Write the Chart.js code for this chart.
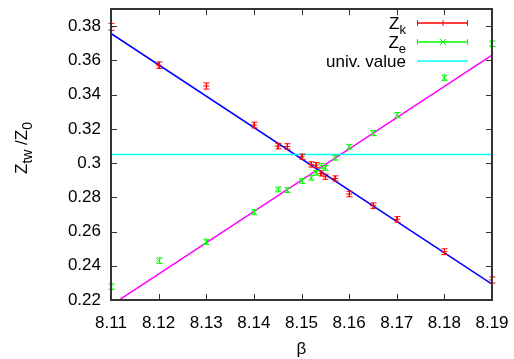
<!DOCTYPE html>
<html>
<head>
<meta charset="utf-8">
<script src="https://cdn.jsdelivr.net/npm/chart.js@4/dist/chart.umd.min.js"></script>
<style>
  html, body { margin: 0; padding: 0; background: #fff; }
  #wrap { width: 514px; height: 359px; }
</style>
</head>
<body>
<div id="wrap"><canvas id="chart"></canvas></div>
<script>
// DATA
const beta = [8.11, 8.12, 8.13, 8.14, 8.145, 8.147, 8.15, 8.152, 8.153, 8.154, 8.155, 8.157, 8.16, 8.165, 8.17, 8.18, 8.19];
const zK = [0.3796, 0.3572, 0.3450, 0.3222, 0.3099, 0.3097, 0.3037, 0.2992, 0.2988, 0.2940, 0.2920, 0.2910, 0.2819, 0.2751, 0.2671, 0.2482, 0.2317];
const zKerr = [0.0020, 0.0019, 0.0018, 0.0017, 0.0016, 0.0016, 0.0015, 0.0015, 0.0015, 0.0015, 0.0015, 0.0015, 0.0016, 0.0016, 0.0016, 0.0017, 0.0018];
const zE = [0.2278, 0.2430, 0.2540, 0.2713, 0.2846, 0.2842, 0.2895, 0.2914, 0.2943, 0.2984, 0.2972, 0.3031, 0.3095, 0.3175, 0.3280, 0.3498, 0.3697];
const zEerr = [0.0016, 0.0016, 0.0015, 0.0015, 0.0014, 0.0014, 0.0014, 0.0014, 0.0014, 0.0014, 0.0014, 0.0014, 0.0014, 0.0015, 0.0015, 0.0015, 0.0016];
const univValue = 0.305;
const fitBeta = [8.11, 8.19];
const fitK = [0.3757, 0.2293];
const fitE = [0.2169, 0.3630];
const xTicks = [8.11, 8.12, 8.13, 8.14, 8.15, 8.16, 8.17, 8.18, 8.19];
const xTickLabels = ['8.11', '8.12', '8.13', '8.14', '8.15', '8.16', '8.17', '8.18', '8.19'];
const yTicks = [0.22, 0.24, 0.26, 0.28, 0.30, 0.32, 0.34, 0.36, 0.38];
const yTickLabels = ['0.22', '0.24', '0.26', '0.28', '0.3', '0.32', '0.34', '0.36', '0.38'];

const RED = '#ff0000', GREEN = '#00ff00', CYAN = '#00ffff', BLUE = '#0000ff', MAGENTA = '#ff00ff';
const FAMILY = '"Liberation Sans", Arial, sans-serif';

function pts(xs, ys) {
    return xs.map((x, i) => ({ x: x, y: ys[i] }));
}

// ERROR BARS
function drawBars(ctx, sx, sy, ys, errs, color) {
    ctx.strokeStyle = color;
    ctx.lineWidth = 1;
    ctx.beginPath();
    beta.forEach((b, i) => {
        const px = Math.round(sx.getPixelForValue(b)) + 0.5;
        const top = sy.getPixelForValue(ys[i] + errs[i]);
        const bot = sy.getPixelForValue(ys[i] - errs[i]);
        ctx.moveTo(px, top); ctx.lineTo(px, bot);
        ctx.moveTo(px - 3, top); ctx.lineTo(px + 3, top);
        ctx.moveTo(px - 3, bot); ctx.lineTo(px + 3, bot);
    });
    ctx.stroke();
}

// TEXT WITH SUBSCRIPTS
function richWidth(ctx, parts, sub) {
    let w = 0;
    parts.forEach(p => {
        ctx.font = (p.sub ? sub : 17) + 'px ' + FAMILY;
        w += ctx.measureText(p.t).width;
    });
    return w;
}
function richText(ctx, parts, x, y, sub) {
    parts.forEach(p => {
        ctx.font = (p.sub ? sub : 17) + 'px ' + FAMILY;
        ctx.fillText(p.t, x, y + (p.sub ? 5 : 0));
        x += ctx.measureText(p.t).width;
    });
}

// LEGEND SAMPLE
function legendRow(ctx, parts, y, color, marker) {
    ctx.fillStyle = '#000';
    ctx.textAlign = 'left';
    ctx.textBaseline = 'alphabetic';
    const w = richWidth(ctx, parts, 13);
    richText(ctx, parts, 406 - w, y + 6, 13);
    const x0 = 417, x1 = 468, ly = Math.round(y);
    ctx.strokeStyle = color;
    ctx.lineWidth = 1.5;
    ctx.beginPath();
    ctx.moveTo(x0, ly); ctx.lineTo(x1, ly);
    ctx.stroke();
    if (marker) {
        ctx.lineWidth = 1;
        ctx.beginPath();
        ctx.moveTo(x0 + 0.5, ly - 3); ctx.lineTo(x0 + 0.5, ly + 3);
        ctx.moveTo(x1 - 0.5, ly - 3); ctx.lineTo(x1 - 0.5, ly + 3);
        const mx = (x0 + x1) / 2 + 0.5;
        if (marker === '+') {
            ctx.moveTo(mx, ly - 3); ctx.lineTo(mx, ly + 3);
        } else {
            ctx.moveTo(mx - 3, ly - 3); ctx.lineTo(mx + 3, ly + 3);
            ctx.moveTo(mx - 3, ly + 3); ctx.lineTo(mx + 3, ly - 3);
        }
        ctx.stroke();
    }
}

const gnuplotLook = {
    id: 'gnuplotLook',
    afterDatasetsDraw(chart) {
        const ctx = chart.ctx;
        ctx.save();
        drawBars(ctx, chart.scales.x, chart.scales.y, zK, zKerr, RED);
        drawBars(ctx, chart.scales.x, chart.scales.y, zE, zEerr, GREEN);
        ctx.restore();
    },
    afterDraw(chart) {
        const ctx = chart.ctx, sx = chart.scales.x, sy = chart.scales.y, a = chart.chartArea;
        ctx.save();

        // FRAME AND INSIDE TICKS
        const L = Math.round(a.left), R = Math.round(a.right);
        const T = Math.round(a.top), B = Math.round(a.bottom);
        ctx.strokeStyle = '#333';
        ctx.lineWidth = 2;
        ctx.beginPath();
        ctx.rect(L, T, R - L, B - T);
        ctx.stroke();
        ctx.lineWidth = 1;
        ctx.beginPath();
        xTicks.forEach(v => {
            const px = Math.round(sx.getPixelForValue(v)) + 0.5;
            ctx.moveTo(px, B); ctx.lineTo(px, B - 6);
            ctx.moveTo(px, T); ctx.lineTo(px, T + 6);
        });
        yTicks.forEach(v => {
            const py = Math.round(sy.getPixelForValue(v)) + 0.5;
            ctx.moveTo(L, py); ctx.lineTo(L + 6, py);
            ctx.moveTo(R, py); ctx.lineTo(R - 6, py);
        });
        ctx.stroke();

        // LEGEND
        legendRow(ctx, [{ t: 'Z' }, { t: 'k', sub: true }], 22.5, RED, '+');
        legendRow(ctx, [{ t: 'Z' }, { t: 'e', sub: true }], 41.5, GREEN, 'x');
        legendRow(ctx, [{ t: 'univ. value' }], 61, CYAN, null);

        // AXIS TITLES
        ctx.fillStyle = '#000';
        ctx.font = '17px ' + FAMILY;
        ctx.textAlign = 'center';
        ctx.textBaseline = 'alphabetic';
        ctx.fillText('β', (a.left + a.right) / 2, 354);

        const yt = [{ t: 'Z' }, { t: 'tw', sub: true }, { t: ' /Z' }, { t: '0', sub: true }];
        ctx.textAlign = 'left';
        const w = richWidth(ctx, yt, 14);
        ctx.translate(27, 148);
        ctx.rotate(-Math.PI / 2);
        richText(ctx, yt, -w / 2, 0, 14);
        ctx.restore();
    }
};

window.onload = function () {

    new Chart(document.getElementById('chart'), {
        type: 'scatter',
        data: {
            datasets: [{
                label: 'Z_k',
                data: pts(beta, zK),
                pointStyle: 'cross',
                pointRadius: 3,
                borderColor: RED,
                backgroundColor: RED,
                borderWidth: 1
            }, {
                label: 'Z_e',
                data: pts(beta, zE),
                pointStyle: 'crossRot',
                pointRadius: 3,
                borderColor: GREEN,
                backgroundColor: GREEN,
                borderWidth: 1
            }, {
                label: 'univ. value',
                data: pts(fitBeta, [univValue, univValue]),
                showLine: true,
                pointRadius: 0,
                borderColor: CYAN,
                borderWidth: 1.5
            }, {
                label: 'fit k',
                data: pts(fitBeta, fitK),
                showLine: true,
                pointRadius: 0,
                borderColor: BLUE,
                borderWidth: 1.5
            }, {
                label: 'fit e',
                data: pts(fitBeta, fitE),
                showLine: true,
                pointRadius: 0,
                borderColor: MAGENTA,
                borderWidth: 1.5
            }]
        },
        options: {
            responsive: true,
            maintainAspectRatio: false,
            animation: false,
            layout: { padding: { top: 9, right: 22, left: 0, bottom: 0 } },
            plugins: { legend: { display: false }, tooltip: { enabled: false } },
            scales: {
                x: {
                    type: 'linear',
                    min: 8.11,
                    max: 8.19,
                    afterBuildTicks: s => { s.ticks = xTicks.map(v => ({ value: v })); },
                    afterFit: s => { s.height = 59; s.paddingLeft = 0; s.paddingRight = 0; },
                    grid: { display: false, drawTicks: false },
                    border: { display: false },
                    ticks: {
                        color: '#000',
                        font: { family: FAMILY, size: 17 },
                        padding: 13,
                        maxRotation: 0,
                        autoSkip: false,
                        callback: (v, i) => xTickLabels[i]
                    }
                },
                y: {
                    min: 0.22,
                    max: 0.39,
                    afterBuildTicks: s => { s.ticks = yTicks.map(v => ({ value: v })); },
                    afterFit: s => { s.width = 111; s.paddingTop = 0; s.paddingBottom = 0; },
                    grid: { display: false, drawTicks: false },
                    border: { display: false },
                    ticks: {
                        color: '#000',
                        font: { family: FAMILY, size: 17 },
                        padding: 10,
                        autoSkip: false,
                        callback: (v, i) => yTickLabels[i]
                    }
                }
            }
        },
        plugins: [gnuplotLook]
    });

};
</script>
</body>
</html>
